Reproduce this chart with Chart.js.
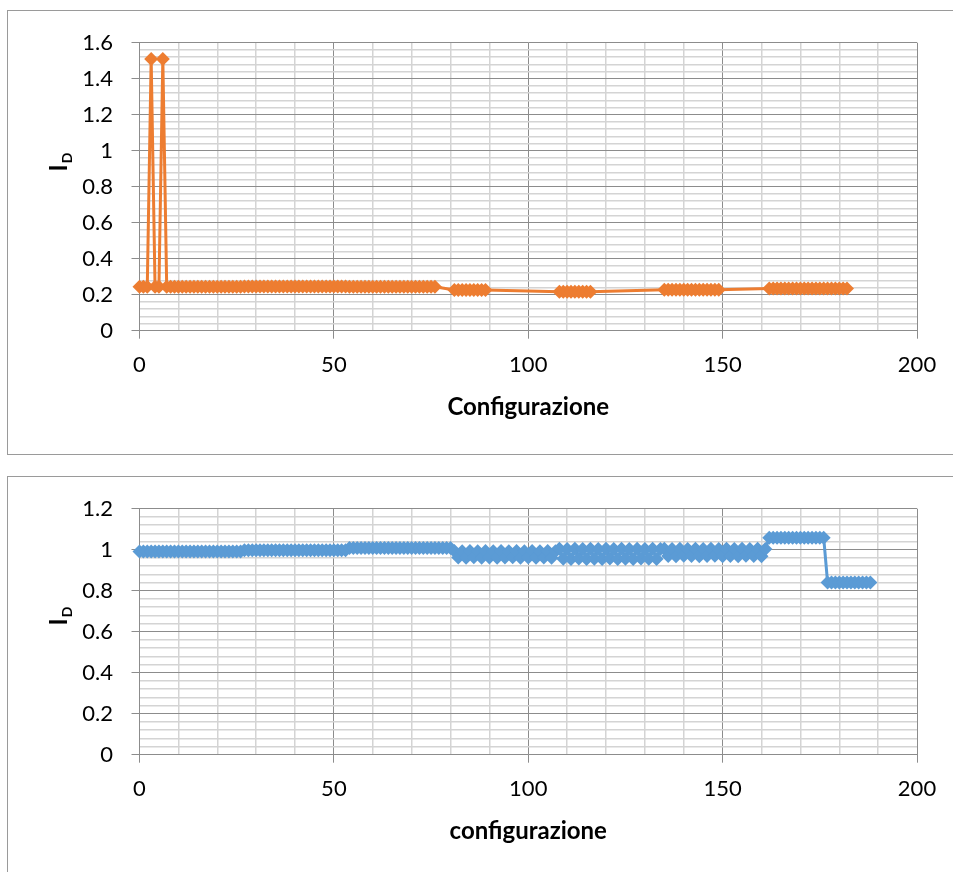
<!DOCTYPE html>
<html lang="it">
<head>
    <meta charset="UTF-8">
    <title>I_D per configurazione</title>
    <script src="https://cdn.jsdelivr.net/npm/chart.js"></script>
    <style>
        html, body { margin: 0; padding: 0; background: #fff; overflow: hidden; }
        body { width: 953px; height: 872px; position: relative; }
        .chart-box { position: absolute; left: 7px; width: 958px; border: 1px solid #9a9a9a; background: #fff; }
        #box-top { top: 10px; height: 443px; }
        #box-bottom { top: 476px; height: 420px; }
        .chart-box canvas { display: block; }
    </style>
</head>
<body>
    <div class="chart-box" id="box-top"><canvas id="chartTop" width="958" height="443"></canvas></div>
    <div class="chart-box" id="box-bottom"><canvas id="chartBottom" width="958" height="395"></canvas></div>

    <script>
        const _ = null; // configurazione senza risultato

        // I_D grafico superiore, configurazioni 0..182
        const topID = [
            0.244, 0.244, 0.244, 1.51, 0.244, 0.244, 1.51, 0.244, 0.244, 0.244, 0.244, 0.244, 0.244, 0.244,
            0.244, 0.244, 0.244, 0.244, 0.244, 0.244, 0.244, 0.244, 0.244, 0.244, 0.244, 0.244, 0.244,
            0.245, 0.245, 0.245, 0.245, 0.245, 0.245, 0.245, 0.245, 0.245, 0.245, 0.245, 0.245, 0.245, 0.245,
            0.245, 0.245, 0.245, 0.245, 0.245, 0.245, 0.245, 0.245, 0.245, 0.245, 0.245, 0.245, 0.245,
            0.244, 0.244, 0.244, 0.244, 0.244, 0.244, 0.244, 0.244, 0.244, 0.244, 0.244, 0.244, 0.244, 0.244,
            0.244, 0.244, 0.244, 0.244, 0.244, 0.244, 0.244, 0.244, 0.244, _, _, _, _,
            0.226, 0.226, 0.226, 0.226, 0.226, 0.226, 0.226, 0.226, 0.226,
            _, _, _, _, _, _, _, _, _, _, _, _, _, _, _, _, _, _,
            0.217, 0.217, 0.217, 0.217, 0.217, 0.217, 0.217, 0.217, 0.217,
            _, _, _, _, _, _, _, _, _, _, _, _, _, _, _, _, _, _,
            0.227, 0.227, 0.227, 0.227, 0.227, 0.227, 0.227, 0.227, 0.227, 0.227, 0.227, 0.227, 0.227, 0.227, 0.227,
            _, _, _, _, _, _, _, _, _, _, _, _,
            0.234, 0.234, 0.234, 0.234, 0.234, 0.234, 0.234, 0.234, 0.234, 0.234, 0.234,
            0.234, 0.234, 0.234, 0.234, 0.234, 0.234, 0.234, 0.234, 0.234, 0.234
        ];

        // I_D grafico inferiore, configurazioni 0..188
        const bottomID = [
            0.991, 0.991, 0.991, 0.991, 0.991, 0.991, 0.991, 0.991, 0.991, 0.991, 0.991, 0.991, 0.991, 0.991,
            0.991, 0.991, 0.991, 0.991, 0.991, 0.991, 0.991, 0.991, 0.991, 0.991, 0.991, 0.991, 0.991,
            0.997, 0.997, 0.997, 0.997, 0.997, 0.997, 0.997, 0.997, 0.997, 0.997, 0.997, 0.997, 0.997, 0.997,
            0.997, 0.997, 0.997, 0.997, 0.997, 0.997, 0.997, 0.997, 0.997, 0.997, 0.997, 0.997, 0.997,
            1.008, 1.008, 1.008, 1.008, 1.008, 1.008, 1.008, 1.008, 1.008, 1.008, 1.008, 1.008, 1.008, 1.008,
            1.008, 1.008, 1.008, 1.008, 1.008, 1.008, 1.008, 1.008, 1.008, 1.008, 1.008, 1.008, 1.008,
            0.994, 0.962, 0.993, 0.961, 0.994, 0.963, 0.992, 0.961, 0.994, 0.962, 0.993, 0.961, 0.994, 0.962,
            0.993, 0.963, 0.994, 0.961, 0.992, 0.962, 0.994, 0.961, 0.993, 0.962, 0.994, 0.961, 0.993,
            1.005, 0.956, 1.004, 0.955, 1.005, 0.957, 1.004, 0.955, 1.005, 0.956, 1.003, 0.955, 1.005, 0.957,
            1.004, 0.955, 1.005, 0.956, 1.004, 0.955, 1.005, 0.957, 1.004, 0.956, 1.005, 0.955, 1.004,
            1.005, 0.969, 1.004, 0.968, 1.005, 0.970, 1.004, 0.969, 1.005, 0.968, 1.003, 0.969, 1.005, 0.970,
            1.004, 0.968, 1.005, 0.969, 1.004, 0.968, 1.005, 0.970, 1.004, 0.969, 1.005, 0.968, 1.004,
            1.058, 1.058, 1.058, 1.058, 1.058, 1.058, 1.058, 1.058, 1.058, 1.058, 1.058, 1.058, 1.058, 1.058, 1.058,
            0.840, 0.840, 0.840, 0.840, 0.840, 0.840, 0.840, 0.840, 0.840, 0.840, 0.840, 0.840
        ];

        // numero di configurazione = posizione nella lista
        const topConfig = topID.map((v, i) => i);
        const bottomConfig = bottomID.map((v, i) => i);

        const xTicks = [0, 50, 100, 150, 200];
        const topYTicks = [0, 0.2, 0.4, 0.6, 0.8, 1, 1.2, 1.4, 1.6];
        const bottomYTicks = [0, 0.2, 0.4, 0.6, 0.8, 1, 1.2];

        Chart.defaults.font.family = 'Lato, "Open Sans", sans-serif';
        Chart.defaults.color = '#000';

        const MAJOR = '#8c8c8c';
        const MINOR = '#d4d4d4';

        const findTick = (list, v) => list.find(t => Math.abs(t - v) < 1e-6);

        // griglia principale scura, secondaria chiara, tacche solo sui valori principali
        function gridFor(list) {
            const major = c => c.tick && findTick(list, c.tick.value) !== undefined;
            return {
                color: c => major(c) ? MAJOR : MINOR,
                lineWidth: c => major(c) ? 1 : 1.5,
                tickColor: c => major(c) ? MAJOR : 'rgba(0,0,0,0)',
                tickWidth: 1,
                tickLength: 8
            };
        }

        // titolo asse y "I" con pedice "D"
        const yTitlePlugin = {
            id: 'yTitle',
            afterDraw(chart, args, opts) {
                const { ctx, chartArea } = chart;
                ctx.save();
                ctx.translate(opts.x, (chartArea.top + chartArea.bottom) / 2 + opts.shift);
                ctx.rotate(-Math.PI / 2);
                ctx.fillStyle = '#000';
                ctx.textBaseline = 'alphabetic';
                ctx.font = 'bold 24px Lato';
                ctx.fillText('I', 0, 0);
                const w = ctx.measureText('I').width;
                ctx.font = 'bold 14px Lato';
                ctx.fillText('D', w + 1, 5);
                ctx.restore();
            }
        };

        function makeChart(id, labels, values, color, yTicks, yMax, xTitle, padBottom, titleShift) {
            return new Chart(document.getElementById(id), {
                type: 'line',
                data: {
                    labels: labels,
                    datasets: [{
                        data: values,
                        borderColor: color,
                        backgroundColor: color,
                        borderWidth: 3,
                        pointStyle: 'rectRot',
                        pointRadius: 7,
                        pointBorderWidth: 0,
                        pointBackgroundColor: color,
                        tension: 0,
                        spanGaps: true,
                        clip: false
                    }]
                },
                options: {
                    responsive: false,
                    animation: false,
                    layout: { padding: { left: 0, top: 29, right: 49, bottom: padBottom } },
                    plugins: {
                        legend: { display: false },
                        tooltip: { enabled: false },
                        yTitle: { x: 58.7, shift: titleShift }
                    },
                    scales: {
                        x: {
                            type: 'linear',
                            min: 0,
                            max: 200,
                            grid: gridFor(xTicks),
                            border: { color: MAJOR, width: 1 },
                            ticks: {
                                stepSize: 10,
                                autoSkip: false,
                                maxRotation: 0,
                                padding: 13,
                                font: { size: 22 },
                                callback: v => { const t = findTick(xTicks, v); return t === undefined ? '' : String(t); }
                            },
                            title: {
                                display: true,
                                text: xTitle,
                                font: { size: 24, weight: 'bold' },
                                padding: { top: 0, bottom: 9.5 }
                            },
                            afterFit: s => { s.height = 100; }
                        },
                        y: {
                            min: 0,
                            max: yMax,
                            grid: gridFor(yTicks),
                            border: { color: MAJOR, width: 1 },
                            ticks: {
                                stepSize: 0.04,
                                autoSkip: false,
                                padding: 18.5,
                                font: { size: 22 },
                                callback: v => { const t = findTick(yTicks, v); return t === undefined ? '' : String(t); }
                            },
                            afterFit: s => { s.width = 131.5; }
                        }
                    }
                },
                plugins: [yTitlePlugin]
            });
        }

        makeChart('chartTop', topConfig, topID, '#ED7D31', topYTicks, 1.6, 'Configurazione', 23.3, -15.3);
        makeChart('chartBottom', bottomConfig, bottomID, '#5B9BD5', bottomYTicks, 1.2, 'configurazione', 17.3, -6.3);
    </script>
</body>
</html>
